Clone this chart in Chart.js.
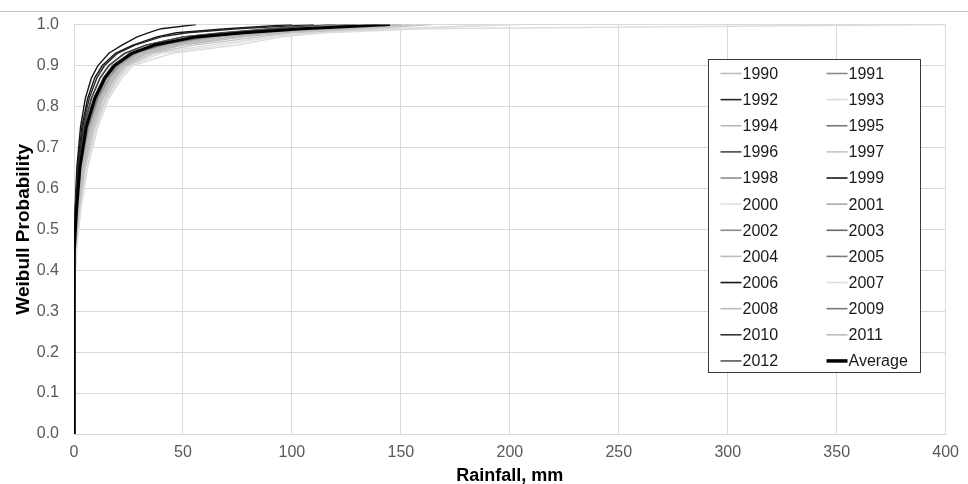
<!DOCTYPE html>
<html>
<head>
<meta charset="utf-8">
<script src="https://cdn.jsdelivr.net/npm/chart.js@4/dist/chart.umd.min.js"></script>
<style>
  html, body { margin: 0; padding: 0; background: #fff; }
  #wrap { position: relative; width: 968px; height: 484px; }
  #topline { position: absolute; left: 0; top: 11px; width: 968px; border-top: 1px solid #c0c0c0; }
  canvas { position: absolute; left: 0; top: 0; }
</style>
</head>
<body>
<div id="wrap">
  <div id="topline"></div>
  <canvas id="myChart" width="968" height="484"></canvas>
</div>
<script>
// Weibull probability levels (y) shared by every series
let probLevels = [0, 0.35, 0.45, 0.55, 0.65, 0.75, 0.82, 0.87, 0.9, 0.93, 0.95, 0.97, 0.98, 0.99, 1.0];

// rainfall (mm) reached at each probability level, per year
let r1990 = [0, 0, 0.6, 2.0, 4.2, 8.2, 13, 18.5, 23, 33, 48, 75, 92, 118, 138];
let r1991 = [0, 0, 0.3, 1.2, 2.8, 6, 10, 14.5, 18.5, 27, 38, 58, 78, 100, 121];
let r1992 = [0, 0, 0.1, 0.7, 1.8, 4.0, 7, 10.5, 14, 20, 28, 40, 52, 75, 110];
let r1993 = [0, 0.2, 1.2, 3.2, 6.2, 11, 16, 22, 27, 45, 75, 95, 115, 160, 400];
let r1994 = [0, 0, 0.5, 1.7, 3.6, 7.4, 12, 17, 21.5, 30, 43, 66, 86, 112, 150];
let r1995 = [0, 0, 0.3, 1.3, 3.0, 6.3, 10.5, 15, 19.5, 28, 40, 60, 80, 104, 128];
let r1996 = [0, 0, 0.1, 0.8, 2.0, 4.5, 8, 12, 16, 23, 33, 50, 68, 90, 118];
let r1997 = [0, 0.1, 0.9, 2.5, 5.0, 9.5, 14.5, 20, 24.5, 36, 55, 85, 100, 135, 164];
let r1998 = [0, 0, 0.4, 1.5, 3.2, 6.8, 11, 16, 20.5, 29.5, 42, 63, 84, 110, 140];
let r1999 = [0, 0, 0, 0.5, 1.3, 3.0, 5.2, 8, 11, 16, 22, 29, 34, 40, 56];
let r2000 = [0, 0.1, 1.0, 2.8, 5.5, 10, 15, 21, 26, 40, 68, 92, 112, 150, 205];
let r2001 = [0, 0, 0.4, 1.5, 3.3, 7, 11.5, 16.5, 21, 30, 43, 65, 86, 115, 145];
let r2002 = [0, 0, 0.3, 1.2, 2.9, 6.2, 10, 14.5, 19, 27.5, 39, 59, 80, 105, 135];
let r2003 = [0, 0, 0.2, 1.1, 2.6, 5.6, 9.5, 14, 18, 26, 37, 57, 78, 100, 130];
let r2004 = [0, 0, 0.7, 2.2, 4.5, 8.8, 13.5, 19, 23.5, 34, 50, 78, 96, 125, 155];
let r2005 = [0, 0, 0.3, 1.3, 3.0, 6.4, 10.5, 15, 19.5, 28, 40, 61, 82, 106, 140];
let r2006 = [0, 0, 0, 0.6, 1.6, 3.6, 6.3, 9.5, 13, 19, 27, 38, 47, 70, 100];
let r2007 = [0, 0.2, 1.1, 3.0, 5.8, 10.5, 15.5, 21, 25.5, 38, 62, 90, 108, 145, 199];
let r2008 = [0, 0, 0.5, 1.8, 3.8, 7.6, 12, 17.5, 22, 31, 44, 68, 88, 115, 148];
let r2009 = [0, 0, 0.2, 1.0, 2.5, 5.4, 9.2, 13.5, 17.5, 25.5, 36, 55, 75, 100, 125];
let r2010 = [0, 0, 0.1, 0.9, 2.1, 4.6, 8, 12, 16, 23.5, 33, 50, 70, 92, 120];
let r2011 = [0, 0, 0.6, 1.9, 4.0, 8.0, 12.5, 18, 22.5, 32, 46, 72, 90, 120, 150];
let r2012 = [0, 0, 0.2, 1.0, 2.4, 5.2, 9, 13.5, 18, 26, 37, 56, 76, 98, 126];
let rAverage = [0, 0, 0.3, 1.2, 2.7, 5.6, 9.6, 14.2, 18.6, 26.5, 37, 56, 78, 105, 145];

let years = ['1990', '1991', '1992', '1993', '1994', '1995', '1996', '1997', '1998', '1999', '2000', '2001',
  '2002', '2003', '2004', '2005', '2006', '2007', '2008', '2009', '2010', '2011', '2012'];
let yearValues = [r1990, r1991, r1992, r1993, r1994, r1995, r1996, r1997, r1998, r1999, r2000, r2001,
  r2002, r2003, r2004, r2005, r2006, r2007, r2008, r2009, r2010, r2011, r2012];
let yearColors = ['#bdbdbd', '#8a8a8a', '#262626', '#dcdcdc', '#b8b8b8', '#767676', '#4a4a4a', '#c4c4c4',
  '#8e8e8e', '#161616', '#e0e0e0', '#a8a8a8', '#8a8a8a', '#686868', '#bdbdbd', '#7a7a7a',
  '#141414', '#dedede', '#bcbcbc', '#7a7a7a', '#333333', '#bdbdbd', '#5a5a5a'];

let xTicks = [0, 50, 100, 150, 200, 250, 300, 350, 400];
let yTicks = [0, 0.1, 0.2, 0.3, 0.4, 0.5, 0.6, 0.7, 0.8, 0.9, 1.0];

const FONT = "'Liberation Sans', Arial, sans-serif";

function toPoints(values) {
  return values.map((v, i) => ({ x: v, y: probLevels[i] }));
}

let datasets = years.map((y, i) => ({
  label: y,
  data: toPoints(yearValues[i]),
  borderColor: yearColors[i],
  borderWidth: 1.4,
  pointRadius: 0,
  tension: 0,
  order: 1,
}));
datasets.push({
  label: 'Average',
  data: toPoints(rAverage),
  borderColor: '#000000',
  borderWidth: 3,
  pointRadius: 0,
  tension: 0,
  order: 0,
});

// two-column boxed legend drawn inside the plot
const boxLegend = {
  id: 'boxLegend',
  afterDraw(chart) {
    const ctx = chart.ctx;
    const left = 708.5, top = 59.5, w = 212, h = 313;
    ctx.save();
    ctx.fillStyle = '#ffffff';
    ctx.fillRect(left, top, w, h);
    ctx.strokeStyle = '#3a3a3a';
    ctx.lineWidth = 1;
    ctx.strokeRect(left, top, w, h);
    ctx.font = '16px ' + FONT;
    ctx.textBaseline = 'middle';
    ctx.textAlign = 'left';
    chart.data.datasets.forEach((ds, i) => {
      const row = Math.floor(i / 2);
      const col = i % 2;
      const y = 73.5 + row * 26.13;
      const x0 = col === 0 ? 720.5 : 826.5;
      ctx.strokeStyle = ds.borderColor;
      ctx.lineWidth = ds.label === 'Average' ? 3.5 : 1.6;
      ctx.beginPath();
      ctx.moveTo(x0, y);
      ctx.lineTo(x0 + 21, y);
      ctx.stroke();
      ctx.fillStyle = '#1a1a1a';
      ctx.fillText(ds.label, x0 + 22, y + 1);
    });
    ctx.restore();
  },
};

let myChart = document.getElementById('myChart').getContext('2d');
let chart = new Chart(myChart, {
  type: 'line',
  data: { datasets: datasets },
  options: {
    responsive: false,
    animation: false,
    layout: { padding: { top: 24, right: 14, bottom: 0, left: 0 } },
    plugins: { legend: { display: false }, tooltip: { enabled: false } },
    scales: {
      x: {
        type: 'linear',
        min: 0,
        max: 400,
        afterBuildTicks: (s) => { s.ticks = xTicks.map((v) => ({ value: v })); },
        afterFit: (s) => { s.height = 50; },
        grid: { color: '#d9d9d9', drawTicks: false },
        border: { color: '#d9d9d9' },
        ticks: { color: '#595959', font: { family: FONT, size: 16 }, padding: 9, maxRotation: 0 },
        title: {
          display: true,
          text: 'Rainfall, mm',
          color: '#000000',
          font: { family: FONT, size: 18, weight: 'bold', lineHeight: 0.9 },
          padding: 0,
        },
      },
      y: {
        type: 'linear',
        min: 0,
        max: 1,
        afterBuildTicks: (s) => { s.ticks = yTicks.map((v) => ({ value: v })); },
        afterFit: (s) => { s.width = 74; },
        grid: { color: '#d9d9d9', drawTicks: false },
        border: { color: '#d9d9d9' },
        ticks: {
          color: '#595959',
          font: { family: FONT, size: 16 },
          padding: 15,
          callback: (v) => Number(v).toFixed(1),
        },
        title: {
          display: true,
          text: 'Weibull Probability',
          color: '#000000',
          font: { family: FONT, size: 19, weight: 'bold', lineHeight: 2.5 },
          padding: 0,
        },
      },
    },
  },
  plugins: [boxLegend],
});
</script>
</body>
</html>
